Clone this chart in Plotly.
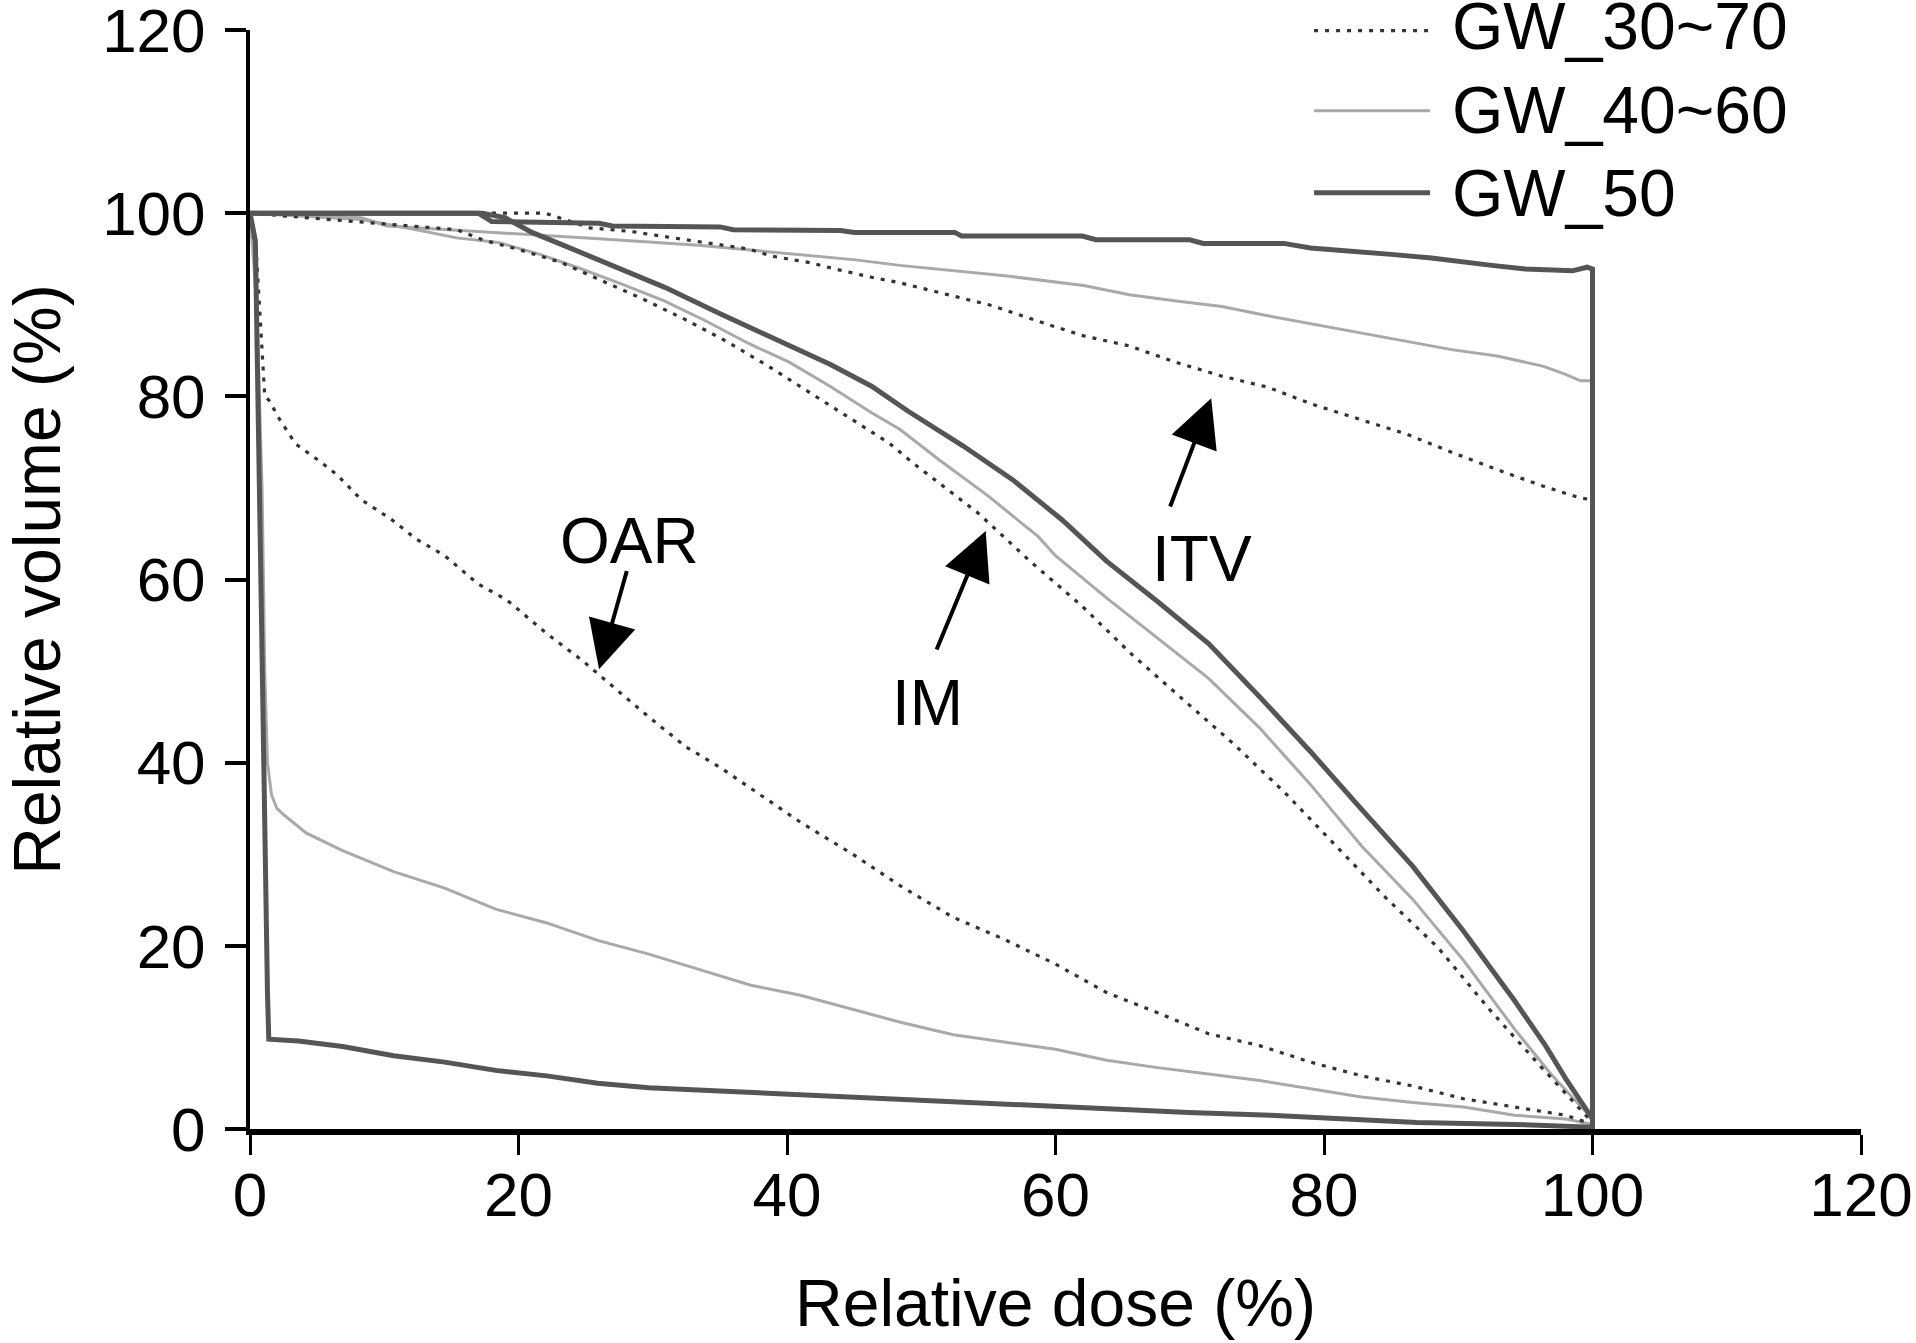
import plotly.graph_objects as go

# ---------------- data ----------------
SERIES_NAMES = ["GW_30~70", "GW_40~60", "GW_50"]
X_TICKS = [0, 20, 40, 60, 80, 100, 120]
Y_TICKS = [0, 20, 40, 60, 80, 100, 120]

# GW_50 (dark, thick)
DOSE_GW50_ITV = [0, 17, 18, 26, 27, 35, 36, 44, 45, 52.5, 53, 62, 63, 70, 71, 77, 79, 81, 83, 85, 88, 90, 92.5, 95, 98.5, 99.6, 100, 100]
VOL_GW50_ITV = [100, 100, 99.1, 98.9, 98.6, 98.5, 98.2, 98.1, 97.9, 97.9, 97.5, 97.5, 97.1, 97.1, 96.7, 96.7, 96.2, 96.0, 95.8, 95.5, 95.1, 94.8, 94.3, 93.9, 93.7, 94.1, 93.9, 0]
DOSE_GW50_IM = [0, 17.3, 19, 21, 23.5, 27.2, 30.9, 34.9, 38.9, 43.2, 46.3, 49.0, 53.1, 56.8, 60.5, 63.8, 67.6, 71.4, 75.2, 79.0, 82.8, 86.6, 90.4, 94.2, 96.5, 98.0, 100]
VOL_GW50_IM = [100, 100, 99.5, 97.9, 96.4, 94.2, 91.9, 89.1, 86.4, 83.5, 81.1, 78.4, 74.6, 70.9, 66.5, 62.0, 57.6, 53.0, 47.2, 41.2, 34.9, 28.7, 21.6, 14.0, 9.1, 5.5, 1.1]
DOSE_GW50_OAR = [0, 0.4, 0.7, 1.0, 1.3, 1.4, 3.6, 6.9, 10.7, 14.5, 18.3, 22.1, 25.9, 29.7, 35.4, 41.1, 46.8, 52.5, 58.6, 63.8, 69.9, 76.0, 81.3, 86.9, 94.2, 100]
VOL_GW50_OAR = [100, 97, 70, 40, 15, 9.8, 9.6, 9.0, 8.0, 7.3, 6.4, 5.8, 5.0, 4.5, 4.1, 3.8, 3.4, 3.0, 2.6, 2.2, 1.8, 1.5, 1.1, 0.7, 0.5, 0.2]

# GW_40~60 (light grey)
DOSE_GW4060_ITV = [0, 8.3, 10.2, 18.5, 26, 33.4, 38.6, 45.1, 48.4, 56.6, 62.1, 65.5, 69.0, 72.4, 75.8, 79.2, 82.7, 86.1, 89.5, 92.9, 96.3, 98.0, 99.1, 100, 100]
VOL_GW4060_ITV = [100, 99.5, 98.6, 97.9, 97.2, 96.5, 95.8, 94.9, 94.3, 93.1, 92.1, 91.1, 90.4, 89.8, 88.8, 87.9, 86.9, 86.0, 85.1, 84.4, 83.3, 82.4, 81.7, 81.7, 0]
DOSE_GW4060_IM = [0, 8.3, 12.4, 15.4, 18.5, 21.6, 24.7, 27.8, 30.9, 34.0, 37.1, 40.2, 43.2, 46.3, 48.4, 51.3, 55.0, 58.7, 60.0, 63.8, 67.6, 71.4, 75.2, 79.0, 82.8, 86.6, 90.4, 94.2, 96.9, 100]
VOL_GW4060_IM = [100, 99.3, 98.2, 97.3, 96.8, 95.5, 93.9, 92.2, 90.4, 88.2, 85.8, 83.7, 81.1, 78.2, 76.4, 73.1, 69.1, 64.7, 62.6, 58.0, 53.6, 49.2, 43.8, 37.6, 30.9, 25.1, 18.4, 10.9, 6.0, 1.1]
DOSE_GW4060_OAR = [0, 0.5, 0.9, 1.1, 1.3, 1.6, 2.0, 2.6, 4.2, 6.9, 10.7, 14.5, 18.3, 22.1, 25.9, 29.7, 33.5, 37.3, 41.0, 44.8, 48.6, 52.4, 56.2, 60.0, 63.8, 67.6, 71.4, 75.2, 79.0, 82.8, 86.6, 90.4, 94.2, 98.0, 100]
VOL_GW4060_OAR = [100, 90, 70, 50, 40, 36.5, 35, 34.2, 32.3, 30.4, 28.1, 26.3, 24.0, 22.5, 20.6, 19.1, 17.4, 15.7, 14.6, 13.1, 11.6, 10.3, 9.5, 8.7, 7.5, 6.7, 6.0, 5.3, 4.4, 3.5, 2.9, 2.4, 1.5, 1.1, 0.5]

# GW_30~70 (dotted)
DOSE_GW3070_ITV = [0, 22, 25.3, 28.4, 30.6, 34.0, 37.1, 38.9, 41.7, 43.6, 46.3, 48.4, 51.9, 55.3, 58.7, 62.1, 65.5, 69.0, 72.4, 75.8, 79.2, 82.7, 86.1, 89.5, 92.9, 96.3, 99.1, 100, 100]
VOL_GW3070_ITV = [100, 100, 98.4, 98.0, 97.5, 96.8, 96.1, 95.3, 94.6, 93.9, 93.0, 92.4, 91.1, 89.9, 88.2, 86.6, 85.5, 83.7, 82.2, 81.0, 79.1, 77.5, 75.9, 73.9, 72.0, 70.2, 68.9, 68.7, 0]
DOSE_GW3070_IM = [0, 10.2, 15.4, 17.3, 20.1, 23.2, 26.6, 29.3, 32.4, 35.5, 38.6, 41.7, 44.8, 47.6, 49.4, 54.2, 58.1, 61.9, 65.7, 69.5, 73.3, 77.1, 80.9, 84.7, 88.5, 92.3, 96.1, 100]
VOL_GW3070_IM = [100, 98.8, 98.2, 97.1, 96.0, 94.6, 92.4, 90.6, 88.4, 86.0, 83.3, 80.4, 77.5, 74.9, 72.7, 67.3, 62.0, 57.2, 51.8, 46.9, 42.0, 36.7, 30.9, 25.1, 19.8, 13.1, 6.9, 0.7]
DOSE_GW3070_OAR = [0, 0.5, 1.1, 1.4, 2.2, 3.4, 5.3, 6.5, 8.3, 10.5, 12.4, 14.5, 17, 19.1, 22.1, 24.8, 27.6, 29.7, 32.5, 35, 37.3, 41.0, 44.9, 48.6, 52.4, 56.2, 60.0, 63.8, 67.6, 71.4, 75.2, 79.0, 82.8, 86.6, 90.4, 94.2, 98.0, 100]
VOL_GW3070_OAR = [100, 95, 80, 79.6, 77.5, 74.8, 72.8, 71.4, 68.7, 66.6, 64.4, 62.6, 59.5, 57.8, 54.1, 51.1, 47.6, 45.0, 41.7, 39.5, 37.2, 33.5, 30.0, 26.4, 23.1, 20.7, 18.0, 14.9, 12.7, 10.4, 9.1, 7.3, 5.8, 4.7, 3.3, 2.4, 1.5, 0.5]

# annotation labels (text, text position, arrow tail, arrow head)
LABELS = ["OAR", "IM", "ITV"]
LABEL_POS = [(28.3, 64.2), (50.5, 46.5), (70.9, 62.2)]
ARROW_TAIL = [(28.1, 61.1), (51.1, 52.2), (68.5, 67.8)]
ARROW_HEAD = [(26.0, 50.2), (54.8, 65.3), (71.6, 79.8)]

# ---------------- styles ----------------
FONT = "Liberation Sans, Arial, sans-serif"
STYLE = {
    "GW_30~70": dict(color="#333333", width=3.2, dash="4px,7px"),
    "GW_40~60": dict(color="#a9a9a9", width=3, dash="solid"),
    "GW_50": dict(color="#555555", width=5, dash="solid"),
}

fig = go.Figure()

curves = [
    ("GW_40~60", DOSE_GW4060_ITV, VOL_GW4060_ITV),
    ("GW_40~60", DOSE_GW4060_IM, VOL_GW4060_IM),
    ("GW_40~60", DOSE_GW4060_OAR, VOL_GW4060_OAR),
    ("GW_30~70", DOSE_GW3070_ITV, VOL_GW3070_ITV),
    ("GW_30~70", DOSE_GW3070_IM, VOL_GW3070_IM),
    ("GW_30~70", DOSE_GW3070_OAR, VOL_GW3070_OAR),
    ("GW_50", DOSE_GW50_ITV, VOL_GW50_ITV),
    ("GW_50", DOSE_GW50_IM, VOL_GW50_IM),
    ("GW_50", DOSE_GW50_OAR, VOL_GW50_OAR),
]
for name, xs, ys in curves:
    fig.add_trace(go.Scatter(x=xs, y=ys, mode="lines", name=name,
                             line=STYLE[name], showlegend=False,
                             hoverinfo="x+y+name"))

# custom legend with long line samples
leg_line_y = [0.9995, 0.9265, 0.852]
leg_text_y = [1.0035, 0.927, 0.8515]
for name, ly, ty in zip(SERIES_NAMES, leg_line_y, leg_text_y):
    st = STYLE[name]
    fig.add_shape(type="line", xref="paper", yref="paper",
                  x0=0.6605, x1=0.7325, y0=ly, y1=ly,
                  line=dict(color=st["color"], width=st["width"], dash=st["dash"]))
    fig.add_annotation(xref="paper", yref="paper", x=0.745, y=ty,
                       text=name, showarrow=False, xanchor="left", yanchor="middle",
                       font=dict(family=FONT, size=66, color="black"))

# structure labels with arrows
for lab, (tx, ty), (ax, ay), (hx, hy) in zip(LABELS, LABEL_POS, ARROW_TAIL, ARROW_HEAD):
    fig.add_annotation(x=tx, y=ty, xref="x", yref="y", text=lab, showarrow=False,
                       xanchor="center", yanchor="middle",
                       font=dict(family=FONT, size=64, color="black"))
    fig.add_annotation(x=hx, y=hy, ax=ax, ay=ay, xref="x", yref="y",
                       axref="x", ayref="y", text="", showarrow=True,
                       arrowhead=2, arrowsize=2.4, arrowwidth=4, arrowcolor="black",
                       standoff=0, startstandoff=0)

fig.update_layout(
    width=1916, height=1343,
    margin=dict(l=250, r=55, t=30, b=214),
    paper_bgcolor="white", plot_bgcolor="white",
    font=dict(family=FONT, color="black"),
    showlegend=False,
)
fig.update_xaxes(
    range=[0, 120], tickvals=X_TICKS, ticktext=[str(v) for v in X_TICKS],
    automargin=False,
    showgrid=False, zeroline=False, showline=True, linecolor="black", linewidth=6,
    ticks="outside", ticklen=20, tickwidth=3, tickcolor="black",
    tickfont=dict(family=FONT, size=62, color="black"), ticklabelstandoff=-13,
    ticklabeloverflow="allow",
    title=dict(text="Relative dose (%)", font=dict(family=FONT, size=66, color="black"), standoff=53),
)
fig.update_yaxes(
    range=[0, 120], tickvals=Y_TICKS, ticktext=[str(v) for v in Y_TICKS],
    automargin=False,
    showgrid=False, zeroline=False, showline=True, linecolor="black", linewidth=4,
    ticks="outside", ticklen=21, tickwidth=4, tickcolor="black",
    tickfont=dict(family=FONT, size=62, color="black"), ticklabelstandoff=7,
    ticklabeloverflow="allow",
    title=dict(text="Relative volume (%)", font=dict(family=FONT, size=66, color="black"), standoff=66),
)

fig.write_html(
    "out.html",
    config={"displayModeBar": False},
    post_script="document.body.style.margin='0px';document.body.style.overflow='hidden';",
)
